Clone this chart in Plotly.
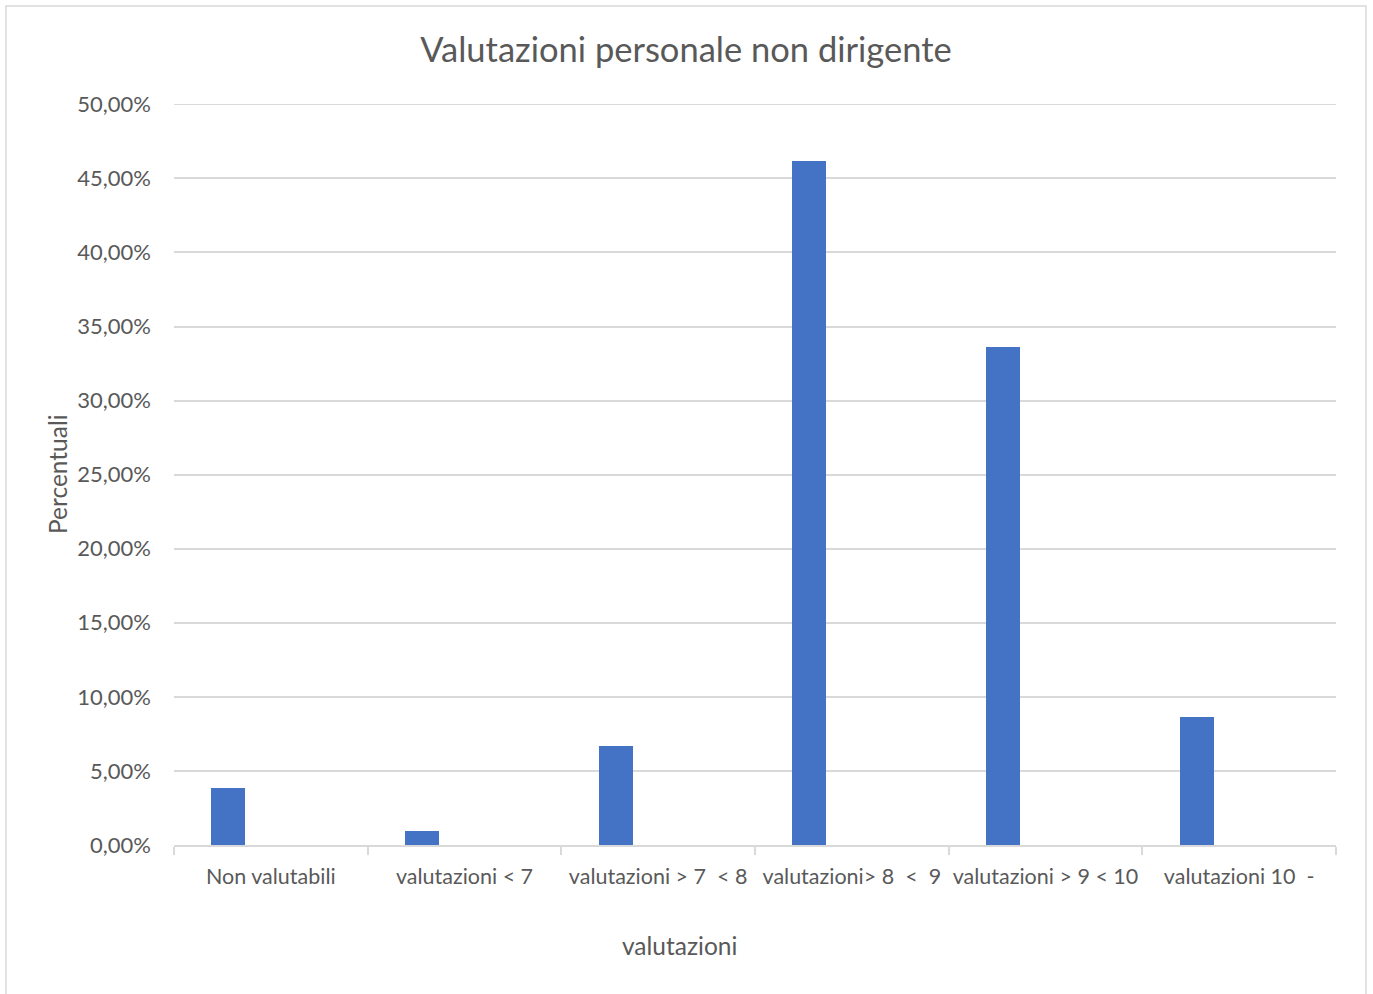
import plotly.graph_objects as go

categories = ["Non valutabili", "valutazioni < 7", "valutazioni > 7  < 8",
              "valutazioni> 8  <  9", "valutazioni > 9 < 10", "valutazioni 10  -"]
values = [0.0385, 0.0095, 0.0669, 0.4615, 0.3365, 0.0863]
y_ticks = [i * 0.05 for i in range(11)]

W, H = 1373, 994
L, T = 174, 104
R = W - 1336
B = H - 845
pw, ph = W - L - R, H - T - B

text_col = "#595959"
grid_col = "#d9d9d9"
font_fam = "Lato, 'Open Sans', sans-serif"

fig = go.Figure()
fig.add_trace(go.Bar(x=categories, y=values, marker=dict(color="#4472C4", line=dict(width=0)),
                     width=0.175, offset=-0.307, hoverinfo="skip"))

def px_x(px):
    return (px - L) / pw

def px_y(py):
    return (H - B - py) / ph

fig.update_layout(
    width=W, height=H,
    margin=dict(l=L, r=R, t=T, b=B, autoexpand=False),
    paper_bgcolor="white", plot_bgcolor="white",
    separators=",.",
    showlegend=False,
    font=dict(family=font_fam, color=text_col, size=22),
    title=dict(text="Valutazioni personale non dirigente", x=686 / W, xref="container",
               xanchor="center", y=1 - 50 / H, yanchor="middle", yref="container",
               font=dict(size=34.5, color=text_col, family=font_fam)),
    xaxis=dict(type="category", showgrid=False, showline=True, linecolor=grid_col, linewidth=1.5,
               ticks="outside", tickson="boundaries", ticklen=8, tickcolor=grid_col, tickwidth=1.5,
               tickfont=dict(size=21.5, color=text_col), ticklabelstandoff=11, tickangle=0,
               automargin=False, range=[-0.5, 5.5]),
    yaxis=dict(range=[0, 0.5002], tickvals=y_ticks, tickformat=".2%", showgrid=True, gridcolor=grid_col,
               gridwidth=1.5, zeroline=False, showline=False, ticks="", automargin=False,
               tickfont=dict(size=22, color=text_col), ticklabelstandoff=22),
    bargap=0,
)

# top gridline (50%) which plotly culls at the range edge
fig.add_shape(type="line", xref="paper", yref="y", x0=0, x1=1, y0=y_ticks[-1], y1=y_ticks[-1],
              line=dict(color=grid_col, width=1.5), layer="below")

fig.add_annotation(text="valutazioni", xref="paper", yref="paper", x=px_x(679), y=px_y(945),
                   showarrow=False, xanchor="center", yanchor="middle",
                   font=dict(size=24.5, color=text_col, family=font_fam))
fig.add_annotation(text="Percentuali", xref="paper", yref="paper", x=px_x(57), y=px_y(474),
                   showarrow=False, xanchor="center", yanchor="middle", textangle=-90,
                   font=dict(size=24.5, color=text_col, family=font_fam))

fig.add_shape(type="rect", xref="paper", yref="paper",
              x0=px_x(6), x1=px_x(1366), y0=px_y(1010), y1=px_y(6),
              line=dict(color="#d9d9d9", width=1.5), fillcolor="rgba(0,0,0,0)", layer="below")

fig.write_html("out.html", config={"displayModeBar": False},
               post_script="document.body.style.margin='0';document.body.style.overflow='hidden';")
